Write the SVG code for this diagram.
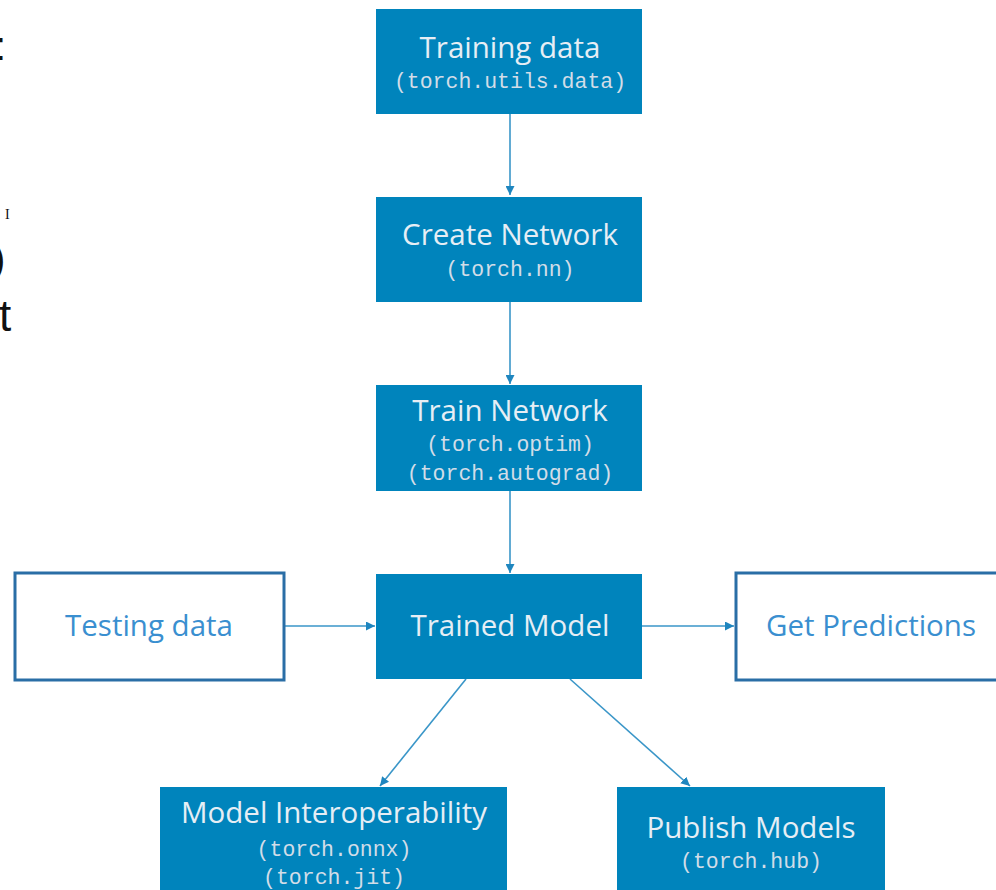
<svg xmlns="http://www.w3.org/2000/svg" width="996" height="890" viewBox="0 0 996 890">
<style>
.box{fill:#0084bc;}
.obox{fill:#fff;stroke:#2a6ea6;stroke-width:3;}
.t{font-family:"Open Sans","Noto Sans",sans-serif;font-size:29.5px;fill:#e6eef5;text-anchor:middle;}
.ot{font-family:"Open Sans","Noto Sans",sans-serif;font-size:29.5px;fill:#3a8fd0;text-anchor:middle;}
.m{font-family:"Liberation Mono",monospace;font-size:21.5px;fill:#d2dde8;text-anchor:middle;}
.edge{stroke:#3a96c8;stroke-width:1.6;fill:none;marker-end:url(#ah);}
.frag{font-family:"Liberation Sans",sans-serif;fill:#111;}
</style>
<defs>
<marker id="ah" viewBox="0 0 10 10" refX="10" refY="5" markerWidth="9" markerHeight="9" markerUnits="userSpaceOnUse" orient="auto">
<path d="M0,0 L10,5 L0,10 z" fill="#1f86bf"/>
</marker>
</defs>
<rect width="996" height="890" fill="#fff"/>
<g id="fragments">
<text class="frag" x="-5" y="60" font-size="40">:</text>
<text x="5" y="219" font-family="Liberation Serif,serif" font-size="14" fill="#111">I</text>
<text class="frag" x="-8" y="273" font-size="40">)</text>
<text class="frag" x="-1" y="331" font-size="44">t</text>
</g>
<g id="connectors">
<line class="edge" x1="510" y1="114" x2="510" y2="195"/>
<line class="edge" x1="510" y1="302" x2="510" y2="384"/>
<line class="edge" x1="510" y1="491" x2="510" y2="573"/>
<line class="edge" x1="285" y1="626" x2="375" y2="626"/>
<line class="edge" x1="642" y1="626" x2="734" y2="626"/>
<line class="edge" x1="466" y1="679" x2="380" y2="786"/>
<line class="edge" x1="570" y1="679" x2="690" y2="786"/>
</g>
<g id="training-data">
<rect class="box" x="376" y="9" width="266" height="105"/>
<text class="t" x="510" y="58">Training data</text>
<text class="m" x="510" y="88">(torch.utils.data)</text>
</g>
<g id="create-network">
<rect class="box" x="376" y="197" width="266" height="105"/>
<text class="t" x="510" y="245">Create Network</text>
<text class="m" x="510" y="276">(torch.nn)</text>
</g>
<g id="train-network">
<rect class="box" x="376" y="385" width="266" height="106"/>
<text class="t" x="510" y="421">Train Network</text>
<text class="m" x="510" y="451">(torch.optim)</text>
<text class="m" x="510" y="480">(torch.autograd)</text>
</g>
<g id="trained-model">
<rect class="box" x="376" y="574" width="266" height="105"/>
<text class="t" x="510" y="636">Trained Model</text>
</g>
<g id="testing-data">
<rect class="obox" x="15" y="573" width="269" height="107"/>
<text class="ot" x="149" y="636">Testing data</text>
</g>
<g id="get-predictions">
<rect class="obox" x="736" y="573" width="270" height="107"/>
<text class="ot" x="871" y="636">Get Predictions</text>
</g>
<g id="model-interoperability">
<rect class="box" x="160" y="787" width="347" height="110"/>
<text class="t" x="334" y="823">Model Interoperability</text>
<text class="m" x="334" y="856">(torch.onnx)</text>
<text class="m" x="334" y="884">(torch.jit)</text>
</g>
<g id="publish-models">
<rect class="box" x="617" y="787" width="268" height="110"/>
<text class="t" x="751" y="838">Publish Models</text>
<text class="m" x="751" y="868">(torch.hub)</text>
</g>
</svg>
